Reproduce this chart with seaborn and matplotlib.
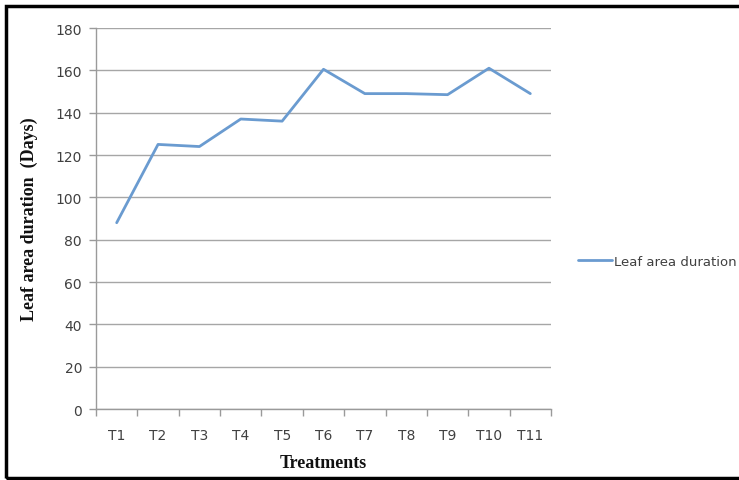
import matplotlib
matplotlib.use("Agg")
import matplotlib.pyplot as plt
from matplotlib.patches import Rectangle
from matplotlib.ticker import FixedLocator
import seaborn as sns
import pandas as pd

treatments = ["T1", "T2", "T3", "T4", "T5", "T6", "T7", "T8", "T9", "T10", "T11"]
leaf_area_duration = [88, 125, 124, 137, 136, 160.5, 149, 149, 148.5, 161, 149]
y_ticks = [0, 20, 40, 60, 80, 100, 120, 140, 160, 180]

df = pd.DataFrame({"Treatment": treatments, "Leaf area duration": leaf_area_duration})

sns.set_theme(style="white")
plt.rcParams["font.family"] = ["DejaVu Sans"]

fig = plt.figure(figsize=(7.39, 4.81), dpi=100)
ax = fig.add_axes([0.1299, 0.1476, 0.6157, 0.7921])

sns.lineplot(data=df, x="Treatment", y="Leaf area duration", ax=ax,
             color="#6a9bd0", linewidth=2.0, label="Leaf area duration", sort=False)

ax.set_xlim(-0.5, len(treatments) - 0.5)
ax.set_ylim(0, 180)
ax.set_yticks(y_ticks)
ax.set_xticks(range(len(treatments)))
ax.set_xticklabels(treatments)
ax.xaxis.set_minor_locator(FixedLocator([i - 0.5 for i in range(len(treatments) + 1)]))

ax.grid(axis="y", color="#a6a6a6", linewidth=1.0)
ax.set_axisbelow(True)
for side in ["top", "right"]:
    ax.spines[side].set_visible(False)
for side in ["left", "bottom"]:
    ax.spines[side].set_color("#9a9a9a")
    ax.spines[side].set_linewidth(1.0)

ax.tick_params(axis="x", which="major", length=0, pad=14, labelsize=10, labelcolor="#404040")
ax.tick_params(axis="x", which="minor", length=5, width=1, color="#9a9a9a", direction="out", bottom=True)
ax.tick_params(axis="y", which="major", length=5, width=1, color="#9a9a9a", direction="out",
               left=True, pad=5, labelsize=10, labelcolor="#404040")

ax.set_xlabel("Treatments", family="Liberation Serif", fontweight="bold", fontsize=13,
              color="#111111", labelpad=8)
ax.set_ylabel("Leaf area duration  (Days)", family="Liberation Serif", fontweight="bold",
              fontsize=13, color="#111111", labelpad=13)

leg = ax.legend(loc="center left", bbox_to_anchor=(0.775, 0.455), bbox_transform=fig.transFigure,
                frameon=False, fontsize=9.5, handlelength=2.6, handletextpad=0.1, borderaxespad=0)
for t in leg.get_texts():
    t.set_color("#404040")

fig.patches.append(Rectangle((6 / 739, 2.5 / 481), 1.2, 472 / 481, transform=fig.transFigure,
                             fill=False, edgecolor="black", linewidth=2.5, clip_on=False))

fig.savefig("out.png", dpi=100)
